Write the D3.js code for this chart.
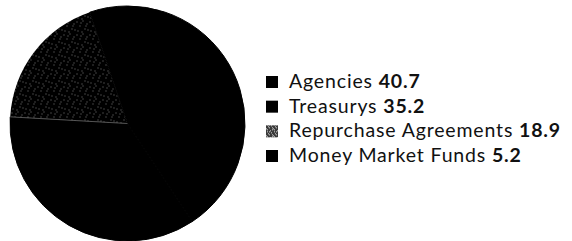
<!DOCTYPE html>
<html><head><meta charset="utf-8">
<script src="https://cdn.jsdelivr.net/npm/d3@7"></script>
<style>body{margin:0;background:#fff}svg{display:block}</style>
</head><body>
<svg id="c" width="572" height="241"></svg>
<script>
const categories = ["Agencies", "Treasurys", "Repurchase Agreements", "Money Market Funds"];
const values = [40.7, 35.2, 18.9, 5.2];
const labels = ["40.7", "35.2", "18.9", "5.2"];
const fills = ["#000", "#000", "url(#stip)", "#000"];
const legendFills = ["#000", "#000", "url(#stipL)", "#000"];

const svg = d3.select("#c");
const defs = svg.append("defs");
function stipple(id, size, bg, dots, col) {
  const p = defs.append("pattern").attr("id", id).attr("patternUnits", "userSpaceOnUse")
    .attr("width", size).attr("height", size);
  p.append("rect").attr("width", size).attr("height", size).attr("fill", bg);
  dots.forEach(d => p.append("rect").attr("x", d[0]).attr("y", d[1]).attr("width", 1).attr("height", 1).attr("fill", col));
}
stipple("stip", 13, "#000", [[1,2],[7,1],[11,4],[4,6],[9,9],[2,11],[6,12],[12,10],[5,3],[10,6]], "#7a7a7a");
stipple("stipL", 7, "#3a3a3a", [[1,1],[5,2],[3,4],[6,6],[0,5],[4,0],[2,3],[6,4],[1,6],[3,1]], "#d0d0d0");

const cx = 127.5, cy = 123.5, r = 117.5;
const pie = d3.pie().sort(null).startAngle(0).endAngle(2 * Math.PI);
const arc = d3.arc().innerRadius(0).outerRadius(r);
const g = svg.append("g").attr("transform", `translate(${cx},${cy})`);
g.selectAll("path").data(pie(values)).join("path")
  .attr("d", arc).attr("fill", (d, i) => fills[i])
  .attr("stroke", (d, i) => fills[i] === "#000" ? "#000" : "none")
  .attr("stroke-width", 1);
// faint light edge between Treasurys and Repurchase
const a2 = pie(values)[2].startAngle;
g.append("line").attr("x1", 0).attr("y1", 0)
  .attr("x2", r * Math.sin(a2)).attr("y2", -r * Math.cos(a2))
  .attr("stroke", "#888").attr("stroke-width", 0.6);

const y = d3.scalePoint().domain(categories).range([88, 162]);
const rows = svg.append("g").selectAll("g").data(categories).join("g")
  .attr("transform", d => `translate(266,${y(d)})`);
rows.append("rect").attr("x", 0).attr("y", -12).attr("width", 12).attr("height", 12)
  .attr("fill", (d, i) => legendFills[i]);
const t = rows.append("text").attr("x", 23).attr("y", 0)
  .attr("font-family", "Lato, sans-serif").attr("font-size", 19.5).attr("fill", "#111");
t.append("tspan").text(d => d + " ");
t.append("tspan").attr("font-weight", "bold").text((d, i) => labels[i]);
// widen tracking so the longest row spans like the reference
const w = t.nodes()[2].getComputedTextLength();
const ls = (272 - w) / 26;
t.attr("letter-spacing", ls > 0 ? ls : 0);
</script>
</body></html>
